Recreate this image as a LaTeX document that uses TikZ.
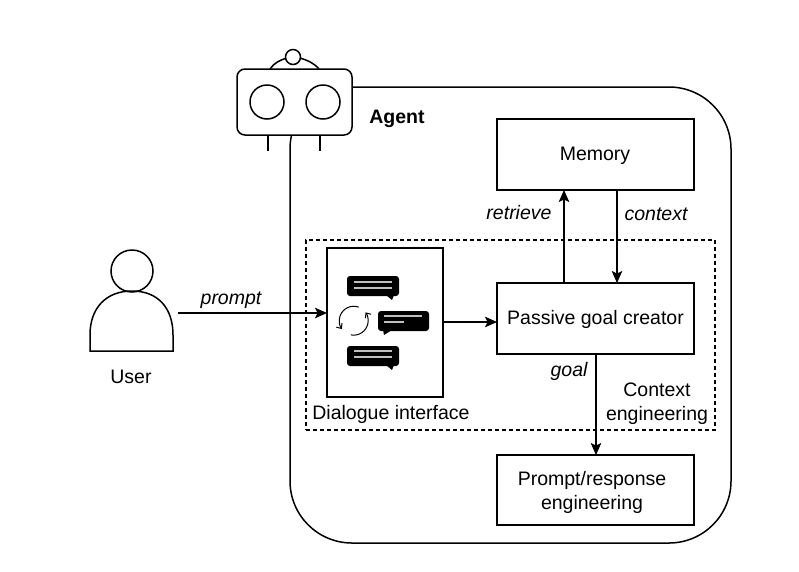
\documentclass[tikz,border=0pt]{standalone}
\usepackage{fontspec}
\setmainfont{Liberation Sans}
\usetikzlibrary{arrows.meta,calc}
\tikzset{
  x=1pt,y=-1pt,
  every node/.style={font=\fontsize{19.5}{24}\selectfont},
  ln/.style={draw=black,line width=1.5pt},
  boxn/.style={ln,fill=white,rectangle,outer sep=0pt,inner sep=0pt,minimum width=197pt,minimum height=71pt,align=center},
  conn/.style={line width=1.5pt,-{Stealth[length=12pt,width=10.5pt,inset=2.5pt]}},
  lab/.style={inner sep=0pt,align=center},
  ilab/.style={lab,font=\fontsize{19.5}{24}\selectfont\itshape},
  bub/.style={fill=black,rounded corners=3pt},
  bubl/.style={draw=white!75!black,line width=1.2pt},
  cyc/.style={line width=1pt,-{Straight Barb[length=4pt,width=7pt]}},
}
\begin{document}
\begin{tikzpicture}
\useasboundingbox (0,0) rectangle (799,571);
% agent container
\node[ln,rectangle,rounded corners=62pt,outer sep=0pt,inner sep=0pt,minimum width=441pt,minimum height=456pt] (agent) at (510.5,315) {};
% robot
\draw[ln] (268,135) -- (268,151);
\draw[ln] (320,135) -- (320,151);
\draw[ln] (270,69) .. controls (274,63) and (280,60) .. (287,58);
\draw[ln] (300,58) .. controls (307,60) and (314,63) .. (319,69);
\node[ln,fill=white,rectangle,rounded corners=8pt,outer sep=0pt,inner sep=0pt,minimum width=115pt,minimum height=66pt] (robot) at (294.5,102) {};
\node[ln,fill=white,circle,inner sep=0pt,minimum size=34pt] (eyeL) at (267,102) {};
\node[ln,fill=white,circle,inner sep=0pt,minimum size=34pt] (eyeR) at (323,102) {};
\node[ln,fill=white,circle,inner sep=0pt,minimum size=15pt] (ant) at (293,57) {};
\node[lab,font=\fontsize{19.5}{24}\selectfont\bfseries] (agentlab) at (397,119) {Agent};
% dashed region
\node[draw=black,line width=1.1pt,dash pattern=on 4pt off 3pt,rectangle,inner sep=0pt,minimum width=409pt,minimum height=190pt] (ctx) at (510.5,335) {};
% boxes
\node[boxn] (mem) at (595.5,154.5) {};
\node[lab] (memlab) at (595,156) {Memory};
\node[boxn] (pgc) at (595.5,318.5) {};
\node[lab] (pgclab) at (595.5,319.5) {Passive goal creator};
\node[boxn,minimum height=70pt] (pre) at (595.5,490) {};
\node[lab] (prelab) at (592,492) {Prompt/response\\engineering};
\node[ln,fill=white,rectangle,outer sep=0pt,inner sep=0pt,minimum width=116pt,minimum height=149pt] (dlg) at (385,322.5) {};
% bubbles
\fill[bub] (347,276) rectangle (399,296);
\fill (386,295) -- (394,295) -- (392,300) -- cycle;
\draw[bubl] (354,282) -- (392,282) (354,288) -- (392,288);
\fill[bub] (378,311) rectangle (429,331);
\fill (383,330) -- (392,330) -- (384,335) -- cycle;
\draw[bubl] (384,316) -- (422,316) (384,322) -- (404,322);
\fill[bub] (347,346) rectangle (399,366);
\fill (386,365) -- (394,365) -- (392,370) -- cycle;
\draw[bubl] (354,351) -- (392,351) (354,357) -- (392,357);
% cycle arrows
\draw[cyc] (358.7,307.1) arc[start angle=70,end angle=215,radius=14.5pt];
\draw[cyc] (350.9,334.9) arc[start angle=-101,end angle=35,radius=14.5pt];
% user
\node[ln,circle,inner sep=0pt,minimum size=42pt] (head) at (132,271) {};
\draw[ln,line join=miter] (90,351) -- (173,351) -- (173,335) .. controls (173,308) and (158,291) .. (132,291) .. controls (106,291) and (90,308) .. (90,335) -- cycle;
\coordinate (userr) at (178,313);
\node[lab] (userlab) at (131,377) {User};
% connectors
\draw[conn] (userr) -- (userr -| dlg.west);
\draw[conn] ([yshift=0.5pt]dlg.east) -- ([yshift=0.5pt]dlg.east -| pgc.west);
\draw[conn] ([xshift=-31.5pt]pgc.north) -- ([xshift=-31.5pt]mem.south);
\draw[conn] ([xshift=21.5pt]mem.south) -- ([xshift=21.5pt]pgc.north);
\draw[conn] ([xshift=0.5pt]pgc.south) -- ([xshift=0.5pt]pre.north);
% labels
\node[ilab] (lprompt) at (231,300) {prompt};
\node[ilab] (lretr) at (519,213) {retrieve};
\node[ilab] (lctx) at (656,214) {context};
\node[ilab] (lgoal) at (569,371) {goal};
\node[lab] (lce) at (657,404) {Context\\engineering};
\node[lab] (ldlg) at (391,414) {Dialogue interface};
\end{tikzpicture}
\end{document}
